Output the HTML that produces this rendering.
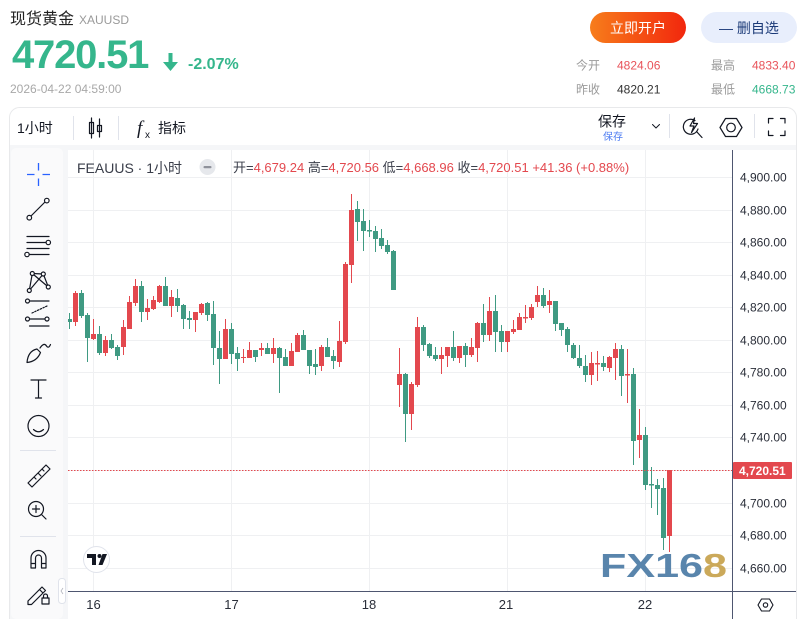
<!DOCTYPE html>
<html><head><meta charset="utf-8">
<style>
html,body{margin:0;padding:0;background:#fff;}
body{width:808px;height:619px;overflow:hidden;font-family:"Liberation Sans","Noto Sans CJK SC",sans-serif;}
svg{display:block;}
text{font-family:"Liberation Sans","Noto Sans CJK SC",sans-serif;}
.r path{stroke:#e3484e;stroke-width:1;fill:none;}
.r rect{fill:#e3484e;}
.g path{stroke:#3f9a82;stroke-width:1;fill:none;}
.g rect{fill:#3f9a82;}
.ic{fill:none;stroke:#131722;stroke-width:1.2;stroke-linecap:round;stroke-linejoin:round;}
.ax{font-size:12px;fill:#2a2e39;}
.xl{font-size:13px;fill:#2a2e39;text-anchor:middle;}
</style></head>
<body>
<svg width="808" height="619" viewBox="0 0 808 619" xmlns="http://www.w3.org/2000/svg">
<defs>
<linearGradient id="og" x1="0" x2="1" y1="0" y2="0"><stop offset="0" stop-color="#f77d1b"/><stop offset="1" stop-color="#f2270d"/></linearGradient>
<clipPath id="cc"><rect x="68" y="150" width="664" height="441"/></clipPath>
</defs>
<rect width="808" height="619" fill="#fff"/>

<!-- Header -->
<text x="10" y="24" font-size="16" fill="#222">现货黄金</text>
<text x="79" y="24" font-size="12" fill="#9a9a9a">XAUUSD</text>
<text x="12" y="68" font-size="40" font-weight="bold" fill="#35b68c" letter-spacing="-1.2">4720.51</text>
<path d="M168.5 53H172.5V62H178L170.5 71L163 62H168.5Z" fill="#35b68c"/>
<text x="188" y="69" font-size="16" font-weight="bold" fill="#35b68c">-2.07%</text>
<text x="10" y="93" font-size="12" fill="#a8a8a8">2026-04-22 04:59:00</text>

<rect x="590" y="12" width="96" height="31" rx="15.5" fill="url(#og)"/>
<text x="638" y="33" font-size="14" fill="#fff" text-anchor="middle">立即开户</text>
<rect x="701" y="12" width="96" height="31" rx="15.5" fill="#e8eefc"/>
<text x="749" y="33" font-size="14" fill="#1b3a78" text-anchor="middle">— 删自选</text>

<text x="576" y="69.5" font-size="12" fill="#9a9a9a">今开</text>
<text x="617" y="69.5" font-size="12" fill="#e8535a">4824.06</text>
<text x="711" y="69.5" font-size="12" fill="#9a9a9a">最高</text>
<text x="752" y="69.5" font-size="12" fill="#e8535a">4833.40</text>
<text x="576" y="93.5" font-size="12" fill="#9a9a9a">昨收</text>
<text x="617" y="93.5" font-size="12" fill="#333">4820.21</text>
<text x="711" y="93.5" font-size="12" fill="#9a9a9a">最低</text>
<text x="752" y="93.5" font-size="12" fill="#35b68c">4668.73</text>

<!-- Card -->
<rect x="9.5" y="107.5" width="787" height="530" rx="10" fill="#fff" stroke="#e8e9eb"/>
<rect x="10" y="145" width="786" height="474" fill="#f5f6f8"/>
<rect x="11" y="148" width="52" height="471" rx="5" fill="#fafafb"/>
<rect x="68" y="150" width="728" height="469" fill="#fff"/>
<line x1="796.5" y1="145" x2="796.5" y2="619" stroke="#e8e9eb"/>

<!-- Toolbar -->
<text x="17" y="133" font-size="14" fill="#131722">1小时</text>
<line x1="73.5" y1="116" x2="73.5" y2="140" stroke="#e0e3eb"/>
<g class="ic">
<path d="M91.5 118V138 M99.5 119V137"/>
<rect x="89.5" y="122.5" width="4" height="11"/>
<rect x="97.5" y="125.5" width="4" height="6"/>
</g>
<line x1="118.5" y1="116" x2="118.5" y2="140" stroke="#e0e3eb"/>
<text x="137" y="134" font-size="19" font-style="italic" font-family="Liberation Serif, serif" fill="#131722" style="font-family:'Liberation Serif',serif">f</text>
<text x="145" y="138" font-size="10" fill="#131722">x</text>
<text x="158" y="133" font-size="14" fill="#131722">指标</text>

<text x="598" y="126.5" font-size="14" fill="#131722">保存</text>
<text x="603" y="140" font-size="10" fill="#4d7cf2">保存</text>
<path class="ic" d="M652.5 124.5L656 128L659.5 124.5" style="stroke-width:1"/>
<line x1="669.5" y1="114" x2="669.5" y2="138" stroke="#e0e3eb"/>
<g class="ic">
<path d="M695 120.5A7.5 7.5 0 1 0 698 129"/>
<path d="M696.5 131.5L702 137.5"/>
<path d="M694.5 118L690 126H694L691.5 132.5L697.5 123.5H693.5Z"/>
<path d="M725.5 118.5H736.5L742 127.5L736.5 136.5H725.5L720 127.5Z"/>
<circle cx="731" cy="127.5" r="4.3"/>
</g>
<line x1="754.5" y1="114" x2="754.5" y2="138" stroke="#e0e3eb"/>
<g class="ic">
<path d="M768.5 123V118.5H773 M780.5 118.5H785V123 M785 131V135.5H780.5 M773 135.5H768.5V131"/>
</g>

<!-- Left tools -->
<g stroke="#2962ff" stroke-width="1.3"><path d="M27 174.5H34.5 M42.5 174.5H50 M38.5 163V170.5 M38.5 178.5V186"/></g>
<g class="ic">
<path d="M31 216L45 202"/>
<circle cx="29.3" cy="217.7" r="2.3" fill="#fff"/><circle cx="46.8" cy="200.6" r="2.3" fill="#fff"/>
<path d="M27 236.5H49 M27 242.5H46 M27 248.5H49 M29.5 254.5H49"/>
<circle cx="48.3" cy="242.5" r="2.2" fill="#fff"/><circle cx="27" cy="254.5" r="2.2" fill="#fff"/>
<path d="M29.3 290.5L32.3 273.5L48.3 287L43.3 274L29.3 290.5 M32.3 273.5L43.3 274"/>
<circle cx="29.3" cy="290.5" r="2" fill="#fff"/><circle cx="32.3" cy="273.5" r="2" fill="#fff"/><circle cx="43.3" cy="274" r="2" fill="#fff"/><circle cx="48.3" cy="287" r="2" fill="#fff"/>
<path d="M29.5 301H49 M29.5 319H44.5 M29.5 326H49"/>
<path d="M32 313L47 306" stroke-dasharray="1.5 1.5"/>
<circle cx="27.5" cy="301" r="2" fill="#fff"/><circle cx="27.5" cy="319" r="2" fill="#fff"/><circle cx="47" cy="319" r="2" fill="#fff"/>
<path d="M27 362.5Q28 351 37 349L40.5 352.5Q37 361.5 27 362.5Z M40 348Q44 342 46.5 346Q48.5 349 50.5 344.5"/>
<path d="M31 380H46 M38.5 380V398 M35.5 398H41.5"/>
<circle cx="38.5" cy="426" r="10.5"/>
<path d="M33.5 429.5Q38.5 434 43.5 429.5"/>
<path d="M28 483L46 465L50 469L32 487Z M34 477L36 479 M38 473L41 476 M42 469L44 471"/>
<circle cx="36" cy="509" r="7.5"/>
<path d="M36 505.5V512.5 M32.5 509H39.5 M41.5 514.5L46 519"/>
<path d="M31 568V558A7.5 7.5 0 0 1 46 558V568H41.5V558A3 3 0 0 0 35.5 558V568Z M31 563.5H35.5 M41.5 563.5H46"/>
<path d="M28 601L42 587L45.5 590.5L31.5 604.5H28Z M39.5 589.5L43 593"/>
<rect x="42" y="598" width="7" height="6"/>
<path d="M43.5 598V596A2 2 0 0 1 47.5 596V598"/>
</g>
<g stroke="#e0e3eb"><line x1="20" y1="450.5" x2="56" y2="450.5"/><line x1="20" y1="536.5" x2="56" y2="536.5"/></g>
<rect x="58.5" y="578.5" width="7" height="25" rx="3" fill="#fff" stroke="#e0e3eb"/>
<path d="M63 588L61 591L63 594" fill="none" stroke="#b2b5be" stroke-width="0.8"/>

<!-- Grid -->
<g stroke="#eff0f2" stroke-width="1">
<path d="M68 177.5H732 M68 210.5H732 M68 242.5H732 M68 275.5H732 M68 307.5H732 M68 340.5H732 M68 372.5H732 M68 405.5H732 M68 437.5H732 M68 470.5H732 M68 503.5H732 M68 535.5H732 M68 568.5H732"/>
<path d="M93.5 150V591 M231.5 150V591 M369.5 150V591 M507.5 150V591 M645.5 150V591"/>
</g>

<!-- Candles -->
<g clip-path="url(#cc)">
<g class="r">
<path d="M75.5 291V326"/><rect x="73" y="293" width="5" height="29"/>
<path d="M93.5 319V340"/><rect x="91" y="334" width="5" height="5"/>
<path d="M105.5 336V356"/><rect x="103" y="340" width="5" height="13"/>
<path d="M123.5 320V355"/><rect x="121" y="327" width="5" height="20"/>
<path d="M129.5 296V329"/><rect x="127" y="302" width="5" height="27"/>
<path d="M135.5 279V306"/><rect x="133" y="286" width="5" height="17"/>
<path d="M147.5 299V320"/><rect x="145" y="308" width="5" height="4"/>
<path d="M153.5 296V310"/><rect x="151" y="300" width="5" height="9"/>
<path d="M159.5 285V303"/><rect x="157" y="286" width="5" height="16"/>
<path d="M171.5 290V317"/><rect x="169" y="297" width="5" height="9"/>
<path d="M195.5 312V332"/><rect x="193" y="312" width="5" height="8"/>
<path d="M201.5 303V315"/><rect x="199" y="304" width="5" height="9"/>
<path d="M225.5 319V359"/><rect x="223" y="329" width="5" height="30"/>
<path d="M243.5 349V363"/><rect x="241" y="357" width="5" height="1"/>
<path d="M249.5 342V358"/><rect x="247" y="350" width="5" height="8"/>
<path d="M261.5 343V356"/><rect x="259" y="348" width="5" height="2"/>
<path d="M273.5 338V363"/><rect x="271" y="348" width="5" height="6"/>
<path d="M291.5 343V366"/><rect x="289" y="351" width="5" height="15"/>
<path d="M297.5 333V352"/><rect x="295" y="335" width="5" height="17"/>
<path d="M321.5 345V371"/><rect x="319" y="347" width="5" height="19"/>
<path d="M339.5 321V367"/><rect x="337" y="341" width="5" height="21"/>
<path d="M345.5 262V344"/><rect x="343" y="264" width="5" height="78"/>
<path d="M351.5 194V283"/><rect x="349" y="210" width="5" height="55"/>
<path d="M399.5 348V407"/><rect x="397" y="374" width="5" height="11"/>
<path d="M411.5 382V430"/><rect x="409" y="384" width="5" height="30"/>
<path d="M417.5 317V387"/><rect x="415" y="327" width="5" height="58"/>
<path d="M441.5 347V374"/><rect x="439" y="355" width="5" height="4"/>
<path d="M447.5 347V367"/><rect x="445" y="347" width="5" height="9"/>
<path d="M459.5 346V363"/><rect x="457" y="346" width="5" height="12"/>
<path d="M471.5 338V357"/><rect x="469" y="347" width="5" height="8"/>
<path d="M477.5 322V362"/><rect x="475" y="323" width="5" height="25"/>
<path d="M489.5 297V341"/><rect x="487" y="311" width="5" height="24"/>
<path d="M507.5 331V352"/><rect x="505" y="331" width="5" height="11"/>
<path d="M513.5 320V334"/><rect x="511" y="329" width="5" height="3"/>
<path d="M519.5 313V330"/><rect x="517" y="317" width="5" height="13"/>
<path d="M525.5 305V323"/><rect x="523" y="317" width="5" height="1.5"/>
<path d="M531.5 304V320"/><rect x="529" y="307" width="5" height="11"/>
<path d="M537.5 286V307"/><rect x="535" y="295" width="5" height="7"/>
<path d="M549.5 290V313"/><rect x="547" y="301" width="5" height="4"/>
<path d="M591.5 352V385"/><rect x="589" y="363" width="5" height="12"/>
<path d="M597.5 351V381"/><rect x="595" y="363" width="5" height="1.5"/>
<path d="M609.5 356V372"/><rect x="607" y="357" width="5" height="11"/>
<path d="M615.5 343V380"/><rect x="613" y="349" width="5" height="9"/>
<path d="M627.5 349V403"/><rect x="625" y="374" width="5" height="1.5"/>
<path d="M639.5 409V458"/><rect x="637" y="435" width="5" height="5"/>
<path d="M669.5 470V552"/><rect x="667" y="470" width="5" height="66"/>
</g>
<g class="g">
<path d="M69.5 313V329"/><rect x="67" y="319" width="5" height="3"/>
<path d="M81.5 290V318"/><rect x="79" y="293" width="5" height="23"/>
<path d="M87.5 313V362"/><rect x="85" y="315" width="5" height="23"/>
<path d="M99.5 326V355"/><rect x="97" y="334" width="5" height="19"/>
<path d="M111.5 334V349"/><rect x="109" y="340" width="5" height="8"/>
<path d="M117.5 345V360"/><rect x="115" y="347" width="5" height="9"/>
<path d="M141.5 281V322"/><rect x="139" y="286" width="5" height="26"/>
<path d="M165.5 277V306"/><rect x="163" y="286" width="5" height="20"/>
<path d="M177.5 289V312"/><rect x="175" y="298" width="5" height="8"/>
<path d="M183.5 304V329"/><rect x="181" y="305" width="5" height="14"/>
<path d="M189.5 311V329"/><rect x="187" y="318" width="5" height="2"/>
<path d="M207.5 302V321"/><rect x="205" y="303" width="5" height="12"/>
<path d="M213.5 301V365"/><rect x="211" y="314" width="5" height="34"/>
<path d="M219.5 331V384"/><rect x="217" y="348" width="5" height="11"/>
<path d="M231.5 323V364"/><rect x="229" y="329" width="5" height="25"/>
<path d="M237.5 347V371"/><rect x="235" y="353" width="5" height="6"/>
<path d="M255.5 350V362"/><rect x="253" y="350" width="5" height="7"/>
<path d="M267.5 343V354"/><rect x="265" y="348" width="5" height="6"/>
<path d="M279.5 347V393"/><rect x="277" y="348" width="5" height="10"/>
<path d="M285.5 349V366"/><rect x="283" y="357" width="5" height="9"/>
<path d="M303.5 330V350"/><rect x="301" y="335" width="5" height="15"/>
<path d="M309.5 350V374"/><rect x="307" y="350" width="5" height="16"/>
<path d="M315.5 349V375"/><rect x="313" y="364" width="5" height="3"/>
<path d="M327.5 338V357"/><rect x="325" y="347" width="5" height="10"/>
<path d="M333.5 350V369"/><rect x="331" y="356" width="5" height="5"/>
<path d="M357.5 201V241"/><rect x="355" y="209" width="5" height="13"/>
<path d="M363.5 209V251"/><rect x="361" y="221" width="5" height="10"/>
<path d="M369.5 220V237"/><rect x="367" y="230" width="5" height="1.5"/>
<path d="M375.5 226V252"/><rect x="373" y="231" width="5" height="8"/>
<path d="M381.5 229V249"/><rect x="379" y="238" width="5" height="8"/>
<path d="M387.5 240V254"/><rect x="385" y="245" width="5" height="7"/>
<path d="M393.5 250V290"/><rect x="391" y="251" width="5" height="39"/>
<path d="M405.5 373V442"/><rect x="403" y="374" width="5" height="40"/>
<path d="M423.5 325V351"/><rect x="421" y="327" width="5" height="18"/>
<path d="M429.5 343V358"/><rect x="427" y="344" width="5" height="12"/>
<path d="M435.5 347V361"/><rect x="433" y="355" width="5" height="4"/>
<path d="M453.5 331V361"/><rect x="451" y="347" width="5" height="11"/>
<path d="M465.5 343V367"/><rect x="463" y="346" width="5" height="9"/>
<path d="M483.5 304V342"/><rect x="481" y="323" width="5" height="12"/>
<path d="M495.5 295V352"/><rect x="493" y="311" width="5" height="21"/>
<path d="M501.5 325V352"/><rect x="499" y="331" width="5" height="11"/>
<path d="M543.5 288V308"/><rect x="541" y="295" width="5" height="11"/>
<path d="M555.5 301V331"/><rect x="553" y="301" width="5" height="23"/>
<path d="M561.5 323V336"/><rect x="559" y="323" width="5" height="7"/>
<path d="M567.5 327V352"/><rect x="565" y="329" width="5" height="16"/>
<path d="M573.5 343V359"/><rect x="571" y="345" width="5" height="13"/>
<path d="M579.5 345V368"/><rect x="577" y="358" width="5" height="8"/>
<path d="M585.5 355V382"/><rect x="583" y="366" width="5" height="9"/>
<path d="M603.5 356V371"/><rect x="601" y="363" width="5" height="4"/>
<path d="M621.5 345V396"/><rect x="619" y="349" width="5" height="27"/>
<path d="M633.5 368V465"/><rect x="631" y="374" width="5" height="67"/>
<path d="M645.5 427V490"/><rect x="643" y="435" width="5" height="50"/>
<path d="M651.5 467V508"/><rect x="649" y="484" width="5" height="1.5"/>
<path d="M657.5 479V515"/><rect x="655" y="485" width="5" height="4"/>
<path d="M663.5 478V550"/><rect x="661" y="488" width="5" height="50"/>
</g>
<line x1="68" y1="470.5" x2="732" y2="470.5" stroke="#e3484e" stroke-width="1" stroke-dasharray="1.5 1.5"/>
</g>

<!-- Watermark -->
<text x="600" y="577" font-size="33" font-weight="bold" textLength="127" lengthAdjust="spacingAndGlyphs" opacity="0.92"><tspan fill="#4c7ba6">FX16</tspan><tspan fill="#c7a24d">8</tspan></text>

<!-- Legend -->
<text x="77" y="173" font-size="14" fill="#3a3e4a">FEAUUS · 1小时</text>
<circle cx="207.5" cy="167" r="8" fill="#e6e8ec"/>
<rect x="203.5" y="166" width="8" height="2.2" rx="1" fill="#8f929b"/>
<text x="233" y="172" font-size="13" fill="#3a3e4a">开=<tspan fill="#e3484e">4,679.24</tspan> 高=<tspan fill="#e3484e">4,720.56</tspan> 低=<tspan fill="#e3484e">4,668.96</tspan> 收=<tspan fill="#e3484e">4,720.51</tspan> <tspan fill="#e3484e">+41.36 (+0.88%)</tspan></text>

<!-- TV logo -->
<circle cx="96.5" cy="559.5" r="13" fill="#fff" stroke="#e0e3eb"/>
<path d="M87 554H96V565H92V558H87Z" fill="#131722"/>
<circle cx="99.5" cy="556" r="2" fill="#131722"/>
<path d="M102.5 554H107L102.5 565H98.5Z" fill="#131722"/>

<!-- Axes -->
<line x1="732.5" y1="150" x2="732.5" y2="619" stroke="#4e5670"/>
<line x1="68" y1="591.5" x2="796" y2="591.5" stroke="#4e5670"/>
<text class="ax" x="740" y="181.5">4,900.00</text>
<text class="ax" x="740" y="214.5">4,880.00</text>
<text class="ax" x="740" y="246.5">4,860.00</text>
<text class="ax" x="740" y="279.5">4,840.00</text>
<text class="ax" x="740" y="311.5">4,820.00</text>
<text class="ax" x="740" y="344.5">4,800.00</text>
<text class="ax" x="740" y="376.5">4,780.00</text>
<text class="ax" x="740" y="409.5">4,760.00</text>
<text class="ax" x="740" y="441.5">4,740.00</text>
<text class="ax" x="740" y="507.5">4,700.00</text>
<text class="ax" x="740" y="539.5">4,680.00</text>
<text class="ax" x="740" y="572.5">4,660.00</text>
<rect x="733" y="462" width="59" height="17" rx="1" fill="#e3484e"/>
<text x="739" y="475" font-size="12" font-weight="bold" fill="#fff">4,720.51</text>

<text class="xl" x="93.5" y="609">16</text>
<text class="xl" x="231.5" y="609">17</text>
<text class="xl" x="369" y="609">18</text>
<text class="xl" x="506" y="609">21</text>
<text class="xl" x="645" y="609">22</text>

<g class="ic" style="stroke-width:1.1">
<path d="M761.5 599H769.5L773 605L769.5 611H761.5L758 605Z"/>
<circle cx="765.5" cy="605" r="2.2"/>
</g>
</svg>
</body></html>
